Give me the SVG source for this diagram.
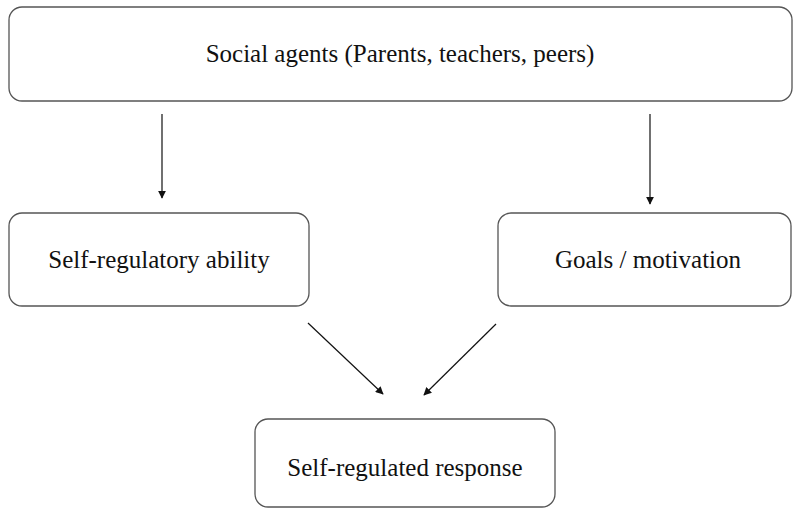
<svg xmlns="http://www.w3.org/2000/svg" width="793" height="509" viewBox="0 0 793 509">
<style>
.box{fill:#fff;stroke:#555;stroke-width:1.3}
.lbl{font-family:"Liberation Serif","Times New Roman",serif;font-size:25px;fill:#111;text-anchor:middle}
.conn{stroke:#111;stroke-width:1.2;fill:none;marker-end:url(#ah)}
</style>
<defs>
<marker id="ah" viewBox="0 0 10 10" refX="9" refY="5" markerWidth="8" markerHeight="8" markerUnits="userSpaceOnUse" orient="auto">
<path d="M0,0 L10,5 L0,10 Z" fill="#111"/>
</marker>
</defs>
<rect width="793" height="509" fill="#fff"/>
<g id="social-agents"><rect class="box" x="9" y="7" width="783" height="94" rx="13"/><text class="lbl" x="400" y="62">Social agents (Parents, teachers, peers)</text></g>
<g id="self-regulatory-ability"><rect class="box" x="9" y="213" width="300" height="93" rx="13"/><text class="lbl" x="159" y="268">Self-regulatory ability</text></g>
<g id="goals-motivation"><rect class="box" x="498" y="213" width="293" height="93" rx="13"/><text class="lbl" x="648" y="268">Goals / motivation</text></g>
<g id="self-regulated-response"><rect class="box" x="255" y="419" width="300" height="88" rx="13"/><text class="lbl" x="405" y="476">Self-regulated response</text></g>
<g id="connectors">
<line class="conn" x1="162" y1="114" x2="162" y2="198"/>
<line class="conn" x1="650" y1="114" x2="650" y2="204"/>
<line class="conn" x1="308" y1="323" x2="383" y2="394"/>
<line class="conn" x1="496" y1="324" x2="424" y2="395"/>
</g>
</svg>
